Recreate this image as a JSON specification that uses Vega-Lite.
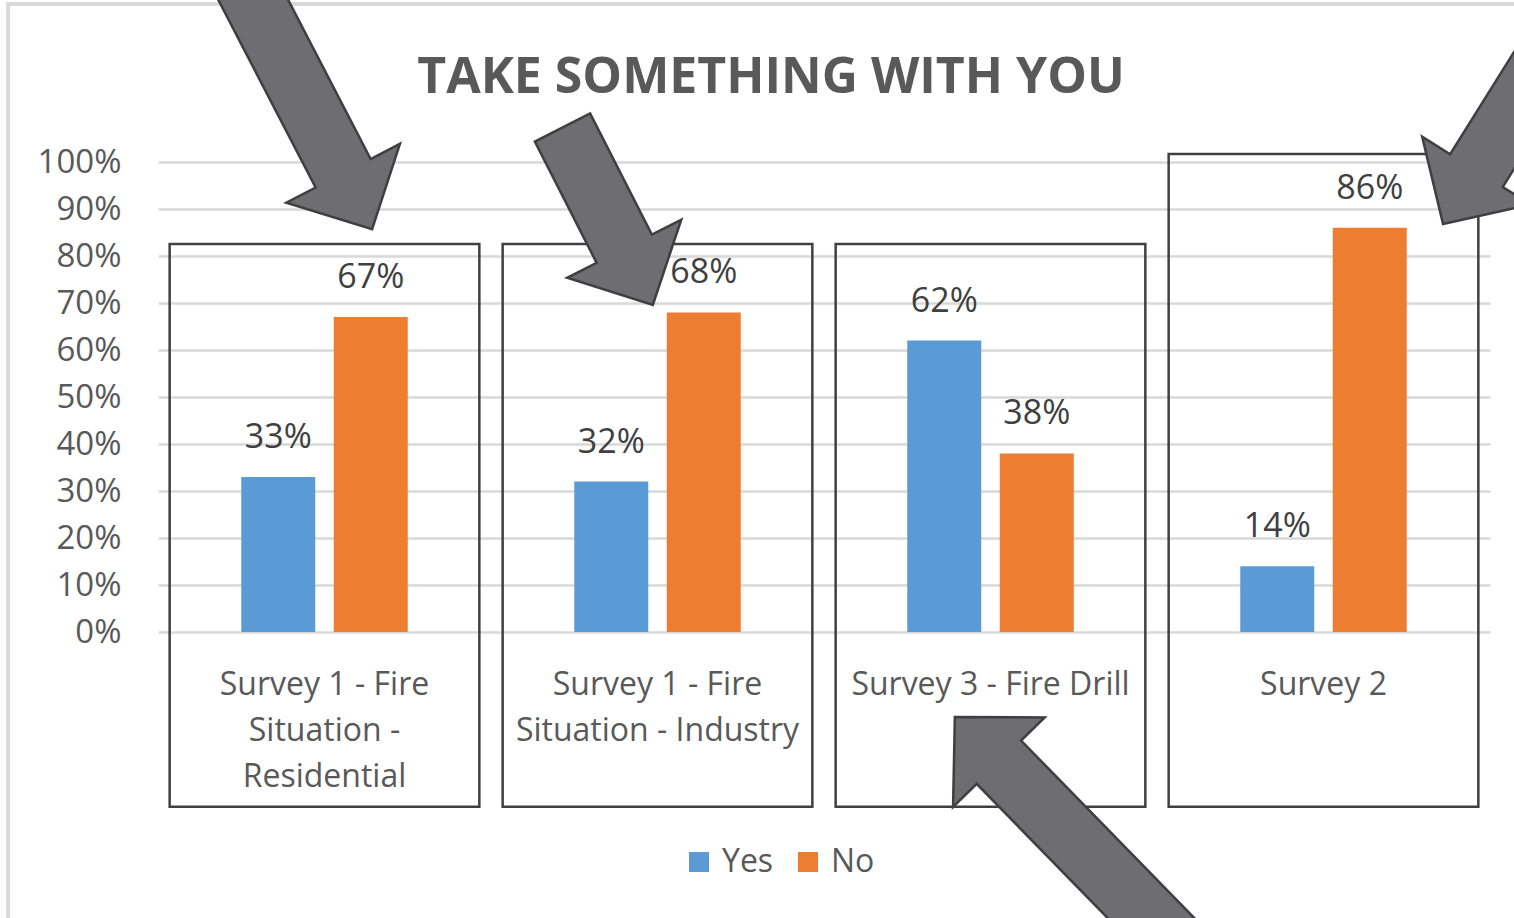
{
  "$schema": "https://vega.github.io/schema/vega-lite/v6.json",
  "width": 1332,
  "height": 470,
  "autosize": {"type": "none"},
  "padding": {"left": 158, "top": 162, "right": 24, "bottom": 286},
  "background": "white",
  "title": {"text": "TAKE SOMETHING WITH YOU", "font": "Open Sans", "fontSize": 50, "fontWeight": "bold", "color": "#595959", "anchor": "middle", "frame": "group", "dx": -53, "offset": -226, "baseline": "alphabetic"},
  "datasets": {
    "bars": [
      {"category": "Survey 1 - Fire Situation - Residential", "answer": "Yes", "pct": 0.33},
      {"category": "Survey 1 - Fire Situation - Residential", "answer": "No", "pct": 0.67},
      {"category": "Survey 1 - Fire Situation - Industry", "answer": "Yes", "pct": 0.32},
      {"category": "Survey 1 - Fire Situation - Industry", "answer": "No", "pct": 0.68},
      {"category": "Survey 3 - Fire Drill", "answer": "Yes", "pct": 0.62},
      {"category": "Survey 3 - Fire Drill", "answer": "No", "pct": 0.38},
      {"category": "Survey 2", "answer": "Yes", "pct": 0.14},
      {"category": "Survey 2", "answer": "No", "pct": 0.86}
    ],
    "boxes": [
      {"category": "Survey 1 - Fire Situation - Residential", "top": 0.8255, "bottom": -0.372},
      {"category": "Survey 1 - Fire Situation - Industry", "top": 0.8255, "bottom": -0.372},
      {"category": "Survey 3 - Fire Drill", "top": 0.8255, "bottom": -0.372},
      {"category": "Survey 2", "top": 1.017, "bottom": -0.372}
    ],
    "arrows": [
      {"arrow": "A1", "pos": 0.643, "pct": 0.857, "angle": 62.6},
      {"arrow": "A2", "pos": 1.486, "pct": 0.696, "angle": 63},
      {"arrow": "A3", "pos": 3.859, "pct": 0.868, "angle": 122},
      {"arrow": "A4", "pos": 2.393, "pct": -0.181, "angle": 225.7}
    ],
    "frame": [
      {"x0": -0.45, "x1": 4.3, "y0": 1.336, "y1": -0.9}
    ]
  },
  "config": {
    "view": {"stroke": null},
    "font": "Open Sans",
    "axis": {"labelFont": "Open Sans", "labelColor": "#595959", "labelFontSize": 32, "ticks": false, "domain": false},
    "axisY": {"grid": true, "gridColor": "#d9d9d9", "gridWidth": 2.5, "labelPadding": 37, "labelFontSize": 33},
    "axisX": {"grid": false, "labelAngle": 0, "labelPadding": 37, "labelLineHeight": 46, "labelBaseline": "top", "labelLimit": 500}
  },
  "layer": [
    {
      "data": {"name": "frame"},
      "mark": {"type": "rect", "filled": false, "stroke": "#d9d9d9", "strokeWidth": 4},
      "encoding": {
        "x": {"field": "x0", "type": "quantitative", "scale": {"domain": [0, 4], "nice": false, "zero": false}, "axis": null},
        "x2": {"field": "x1"},
        "y": {"field": "y0", "type": "quantitative", "scale": {"domain": [0, 1], "nice": false}, "axis": {"title": null, "format": ".0%", "tickCount": 10}},
        "y2": {"field": "y1"}
      }
    },
    {
      "data": {"name": "boxes"},
      "mark": {"type": "rect", "filled": false, "stroke": "#404040", "strokeWidth": 2.5},
      "encoding": {
        "x": {"field": "category", "type": "nominal", "sort": null, "scale": {"paddingInner": 0.07, "paddingOuter": 0.035}, "axis": null},
        "y": {"field": "top", "type": "quantitative", "scale": {"domain": [0, 1], "nice": false}, "axis": {"title": null, "format": ".0%", "tickCount": 10}},
        "y2": {"field": "bottom"}
      }
    },
    {
      "data": {"name": "bars"},
      "encoding": {
        "x": {
          "field": "category", "type": "nominal", "sort": null,
          "scale": {"paddingInner": 0.5, "paddingOuter": 0.25},
          "axis": {"title": null, "labelExpr": "datum.value == 'Survey 1 - Fire Situation - Residential' ? ['Survey 1 - Fire', 'Situation -', 'Residential'] : datum.value == 'Survey 1 - Fire Situation - Industry' ? ['Survey 1 - Fire', 'Situation - Industry'] : datum.label"}
        },
        "xOffset": {"field": "answer", "type": "nominal", "sort": ["Yes", "No"], "scale": {"paddingInner": 0.2, "paddingOuter": 0}},
        "y": {"field": "pct", "type": "quantitative", "scale": {"domain": [0, 1], "nice": false}, "axis": {"title": null, "format": ".0%", "tickCount": 10}}
      },
      "layer": [
        {
          "mark": {"type": "bar"},
          "encoding": {
            "color": {
              "field": "answer", "type": "nominal", "sort": ["Yes", "No"],
              "scale": {"domain": ["Yes", "No"], "range": ["#5b9bd5", "#ed7d31"]},
              "legend": {"orient": "none", "legendX": 525, "legendY": 684, "direction": "horizontal", "title": null, "symbolType": "square", "symbolSize": 400, "symbolStrokeWidth": 0, "labelFont": "Open Sans", "labelFontSize": 32, "labelColor": "#595959", "columnPadding": 18, "labelOffset": 7}
            }
          }
        },
        {
          "mark": {"type": "text", "baseline": "alphabetic", "dy": -29, "font": "Open Sans", "fontSize": 34, "color": "#404040"},
          "encoding": {
            "text": {"field": "pct", "type": "quantitative", "format": ".0%"}
          }
        }
      ]
    },
    {
      "data": {"name": "arrows"},
      "mark": {"type": "point", "filled": true, "fill": "#6d6d72", "stroke": "#3f3f3f", "strokeWidth": 2.5, "size": 4, "opacity": 1},
      "encoding": {
        "x": {"field": "pos", "type": "quantitative", "scale": {"domain": [0, 4], "nice": false, "zero": false}, "axis": null},
        "y": {"field": "pct", "type": "quantitative", "scale": {"domain": [0, 1], "nice": false}, "axis": {"title": null, "format": ".0%", "tickCount": 10}},
        "shape": {
          "field": "arrow", "type": "nominal",
          "scale": {"domain": ["A1", "A2", "A3", "A4"], "range": [
            "M0,0L-63,-64L-63,-31L-330,-31L-330,31L-63,31L-63,64Z",
            "M0,0L-63,-64L-63,-31L-199,-31L-199,31L-63,31L-63,64Z",
            "M0,0L-63,-64L-63,-31L-330,-31L-330,31L-63,31L-63,64Z",
            "M0,0L-63,-64L-63,-31L-330,-31L-330,31L-63,31L-63,64Z"
          ]},
          "legend": null
        },
        "angle": {"field": "angle", "type": "quantitative", "scale": null}
      }
    }
  ],
  "resolve": {"scale": {"x": "independent"}, "axis": {"x": "independent"}}
}
